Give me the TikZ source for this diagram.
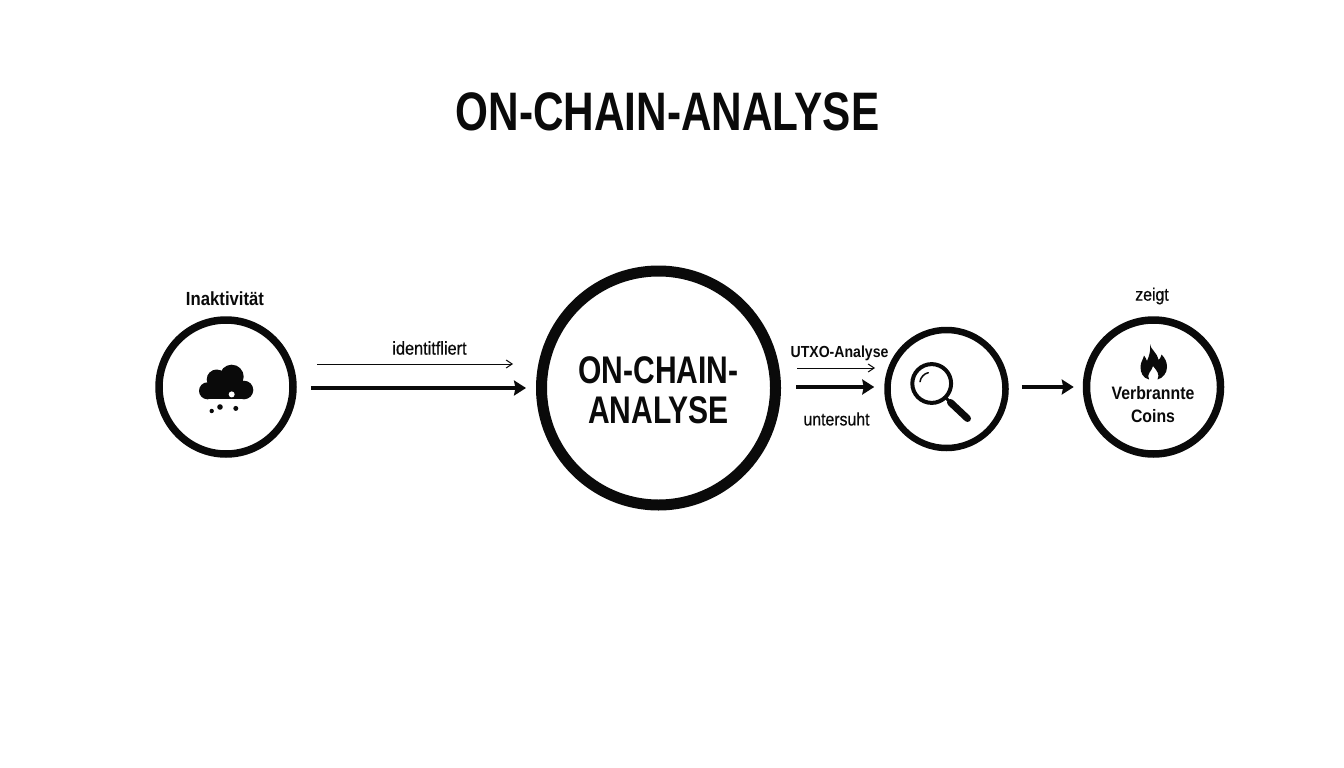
\documentclass[tikz,border=0pt]{standalone}
\usepackage{fontspec}
\setmainfont{Liberation Sans}[FakeStretch=0.78]
\newfontfamily\widerf{Liberation Sans}[FakeStretch=0.88]
\newfontfamily\mediumf{Liberation Sans}[FakeStretch=0.88,FakeBold=0.5]
\usetikzlibrary{arrows.meta}
\definecolor{ink}{HTML}{0A0A0A}
\tikzset{
  x=1pt,y=-1pt,
  ring/.style={circle,draw=ink,fill=white,inner sep=0pt,align=center,text=ink},
  heavy/.style={draw=ink,line width=3.4pt,-{Triangle[length=12pt,width=15pt,inset=1.5pt]}},
  fine/.style={draw=ink,line width=1pt,-{Straight Barb[length=6pt,width=8pt]}},
  lab/.style={inner sep=0pt,text=ink,align=center}
}
\begin{document}
\begin{tikzpicture}
\useasboundingbox (0,0) rectangle (1344,768);
\fill[white] (0,0) rectangle (1344,768);
\node[lab,font=\bfseries\fontsize{54.2}{56}\selectfont] (title) at (667.5,112) {ON-CHAIN-ANALYSE};
\node[ring,line width=7.5pt,minimum size=134pt] (inakt) at (226,387) {};
\node[ring,line width=11pt,minimum size=234pt] (onchain) at (658.5,388) {};
\node[ring,line width=6.5pt,minimum size=118pt] (lupe) at (946.5,389) {};
\node[ring,line width=7.5pt,minimum size=134pt] (coins) at (1153.5,387) {};
\node[lab,font=\bfseries\fontsize{38.5}{39.5}\selectfont] (onchaintxt) at (658.5,390) {ON-CHAIN-\\ANALYSE};
\node[lab,font=\widerf\bfseries\fontsize{18}{23}\selectfont] (coinstxt) at (1153,405) {Verbrannte\\Coins};
\node[lab,font=\widerf\bfseries\fontsize{19}{20}\selectfont] (linakt) at (225,299) {Inaktivität};
\node[lab,font=\mediumf\fontsize{18.5}{20}\selectfont] (lident) at (429.5,348) {identitfliert};
\node[lab,font=\widerf\bfseries\fontsize{16}{20}\selectfont] (lutxo) at (839.5,353.5) {UTXO-Analyse};
\node[lab,font=\mediumf\fontsize{18}{20}\selectfont] (lunter) at (836.5,419) {untersuht};
\node[lab,font=\mediumf\fontsize{18}{20}\selectfont] (lzeigt) at (1152,296) {zeigt};
% connectors
\draw[heavy,shorten <=14pt,shorten >=10pt] (inakt.east |- onchain) -- (onchain.west);
\draw[heavy,shorten <=15pt,shorten >=10pt] (onchain.east |- coins) -- (lupe.west |- coins);
\draw[heavy,shorten <=13pt,shorten >=9pt] (lupe.east |- coins) -- (coins.west);
\coordinate (f1a) at (317,364); \coordinate (f1b) at (513,364);
\coordinate (f2a) at (797,368); \coordinate (f2b) at (875,368);
\draw[fine] (f1a) -- (f1b);
\draw[fine] (f2a) -- (f2b);
% cloud
\fill[ink] (207.5,390.8) circle (8.5);
\fill[ink] (216.7,379.5) circle (10);
\fill[ink] (231.7,376.7) circle (12);
\fill[ink] (244,390) circle (9.3);
\fill[ink] (207.5,382) rectangle (244,399.3);
\fill[white] (231.7,394.4) circle (3);
\fill[ink] (211.7,411) circle (2.2) (220,407) circle (2.8) (235.8,408.4) circle (2.5);
% magnifier
\draw[ink,line width=4pt] (931.7,383.5) circle (19.4);
\draw[ink,line width=1.5pt,line cap=round] (920,381.7) .. controls (920.5,377.5) and (924,373.5) .. (928.3,372.7);
\draw[ink,line width=3pt] (946,398) -- (951,403);
\draw[ink,line width=7pt,line cap=round] (950.5,402.5) -- (967.5,418.5);
% flame
\fill[ink,even odd rule] (1150,344) .. controls (1150,349) and (1157,352) .. (1158.5,360)
 .. controls (1160,359) and (1161,357) .. (1161.5,354.5)
 .. controls (1165,358) and (1167,362) .. (1167,367)
 .. controls (1167,373) and (1163,378) .. (1157.5,379.5)
 .. controls (1160,374) and (1157,371) .. (1153,366)
 .. controls (1152,371) and (1146,374) .. (1149,379.5)
 .. controls (1143,378) and (1140.5,373) .. (1140.5,367)
 .. controls (1140.5,362) and (1143,360) .. (1144,355.5)
 .. controls (1145.5,357) and (1146,359) .. (1147,361)
 .. controls (1149,356) and (1151,351) .. (1150,344) -- cycle;
\end{tikzpicture}
\end{document}
